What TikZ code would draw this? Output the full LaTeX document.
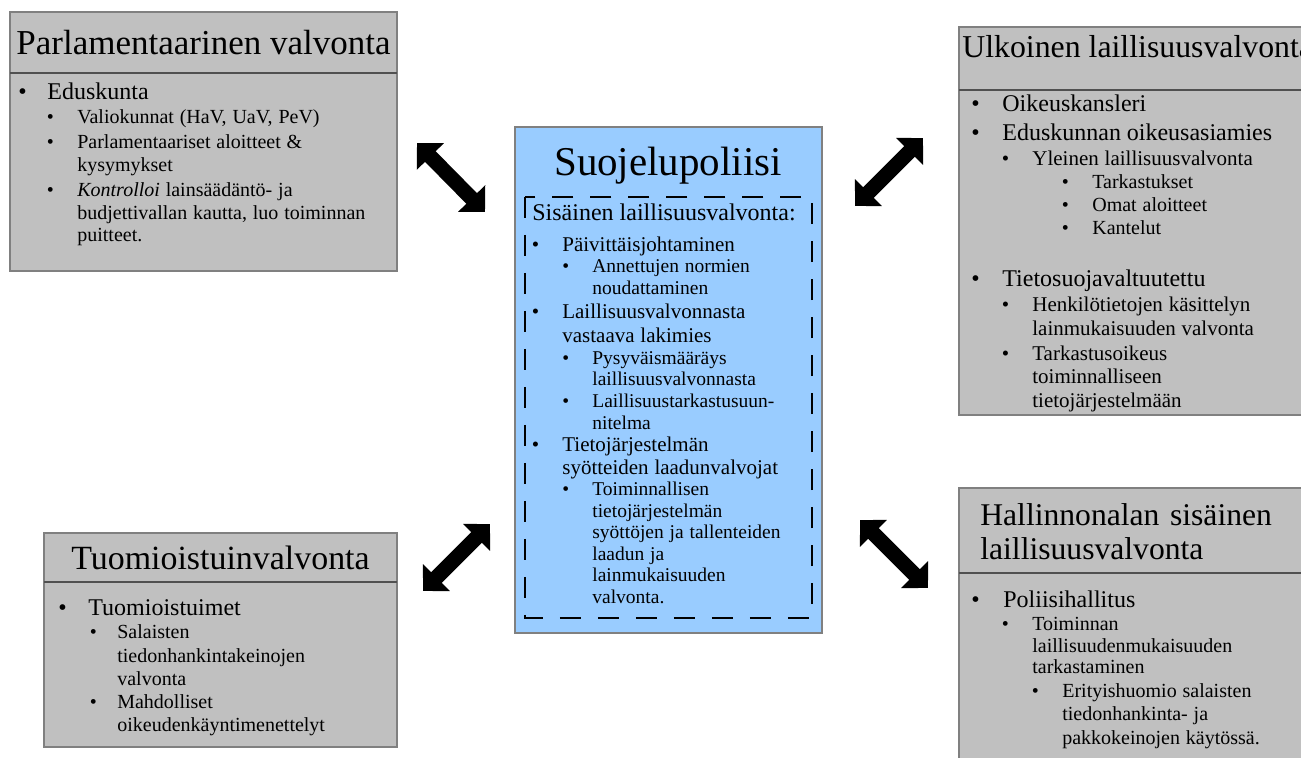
\documentclass[tikz,border=0pt]{standalone}
\usepackage{fontspec}
\setmainfont{Liberation Serif}
\usetikzlibrary{arrows.meta}

\definecolor{boxgray}{RGB}{192,192,192}
\definecolor{supoblue}{RGB}{153,204,255}
\definecolor{edgegray}{RGB}{128,128,128}
\definecolor{sepgray}{RGB}{80,80,80}

\newdimen\pxu \pxu=0.02cm
\newcommand\fsz[2]{\fontsize{#1pt}{#2pt}\selectfont}
% luettelokohta: [lisavali]{luettelomerkin x}{tekstin x}{teksti}
\newcommand\itm[4][0]{\ifdim#1\pxu=0pt\else\vspace{#1\pxu}\fi
  \leftskip=#3\pxu\noindent\llap{\makebox[\dimexpr#3\pxu-#2\pxu\relax][l]{\textbullet}}#4\par}

\begin{document}
\begin{tikzpicture}[x=0.02cm,y=-0.02cm,
    graybox/.style={draw=edgegray,fill=boxgray,line width=0.7pt},
    bluebox/.style={draw=edgegray,fill=supoblue,line width=0.7pt},
    sepline/.style={draw=sepgray,line width=0.9pt},
    dashbox/.style={draw=black,line width=0.6pt,dash pattern=on 0.42cm off 0.34cm},
    dblarrow/.style={line width=0.3cm,{Triangle[length=0.38cm,width=0.74cm]}-{Triangle[length=0.38cm,width=0.74cm]}},
    title/.style={inner sep=0pt},
    body/.style={anchor=base west,inner sep=0pt,text width=8cm,align=left}]
    \useasboundingbox (0,0) rectangle (1301,757);
    \clip (0,0) rectangle (1301,757);

    %Parlamentaarinen valvonta
    \draw[graybox] (10,12) rectangle (397,271);
    \draw[sepline] (10,73) -- (397,73);
    \node[title,anchor=base] (parlTitle) at (203.5,55) {\fsz{19.92}{22}Parlamentaarinen valvonta};
    \node[body] (parlBody) at (10,100) {%
        {\fsz{13.66}{16}\itm{8}{37}{Eduskunta}}
        {\fsz{11.38}{12.8}\itm[1]{36.5}{67}{Valiokunnat (HaV, UaV, PeV)}
        \itm[3]{36.5}{67}{Parlamentaariset aloitteet \&\\kysymykset}
        \itm[3]{36.5}{67}{\textit{Kontrolloi} lainsäädäntö- ja\\budjettivallan kautta, luo toiminnan\\puitteet.}}};

    %Suojelupoliisi
    \draw[bluebox] (515,127) rectangle (822,633);
    \draw[dashbox] (525,197) rectangle (812,618);
    \node[title,anchor=base] (supoTitle) at (668,175) {\fsz{23.3}{25}Suojelupoliisi};
    \node[title,anchor=base west] (supoSub) at (532,220) {\fsz{13.66}{15}Sisäinen laillisuusvalvonta:};
    \node[body] (supoBody) at (515,251) {%
        {\fsz{11.95}{13.37}\itm{16.5}{47}{Päivittäisjohtaminen}}
        {\fsz{11.1}{12.35}\itm[0.3]{47}{77}{Annettujen normien\\noudattaminen}}
        {\fsz{11.95}{13.37}\itm[0.5]{16.5}{47}{Laillisuusvalvonnasta\\vastaava lakimies}}
        {\fsz{11.1}{12.35}\itm[0.3]{47}{77}{Pysyväismääräys\\laillisuusvalvonnasta}
        \itm[0.3]{47}{77}{Laillisuustarkastusuun-\\nitelma}}
        {\fsz{11.95}{13.37}\itm[-2]{16.5}{47}{Tietojärjestelmän\\syötteiden laadunvalvojat}}
        {\fsz{11.1}{12.25}\itm[-0.5]{47}{77}{Toiminnallisen\\tietojärjestelmän\\syöttöjen ja tallenteiden\\laadun ja\\lainmukaisuuden\\valvonta.}}};

    %Ulkoinen laillisuusvalvonta
    \draw[graybox] (959,27) rectangle (1360,415);
    \draw[sepline] (959,90) -- (1360,90);
    \node[title,anchor=base west] (ulkoTitle) at (962,58) {\fsz{18.1}{22}Ulkoinen laillisuusvalvonta};
    \node[body] (ulkoBody) at (959,112) {%
        {\fsz{13.66}{16.5}\itm{12}{43}{Oikeuskansleri}\itm{12}{43}{Eduskunnan oikeusasiamies}}
        {\fsz{11.95}{13.66}\itm[1]{42.5}{73}{Yleinen laillisuusvalvonta}}
        {\fsz{11.38}{13.09}\itm{102.5}{133}{Tarkastukset}\itm{102.5}{133}{Omat aloitteet}\itm{102.5}{133}{Kantelut}}
        {\fsz{13.66}{16.5}\itm[23]{12}{43}{Tietosuojavaltuutettu}}
        {\fsz{11.95}{13.37}\itm[1.5]{42.5}{73}{Henkilötietojen käsittelyn\\lainmukaisuuden valvonta}
        \itm[1.5]{42.5}{73}{Tarkastusoikeus\\toiminnalliseen\\tietojärjestelmään}}};

    %Tuomioistuinvalvonta
    \draw[graybox] (44,533) rectangle (397,747);
    \draw[sepline] (44,582) -- (397,582);
    \node[title,anchor=base] (tuomTitle) at (220.5,569) {\fsz{19.3}{22}Tuomioistuinvalvonta};
    \node[body] (tuomBody) at (44,615) {%
        {\fsz{13.66}{16}\itm{14}{44}{Tuomioistuimet}}
        {\fsz{11.38}{13.26}\itm[0.5]{45.5}{73}{Salaisten\\tiedonhankintakeinojen\\valvonta}
        \itm{45.5}{73}{Mahdolliset\\oikeudenkäyntimenettelyt}}};

    %Hallinnonalan sisainen laillisuusvalvonta
    \draw[graybox] (959,488) rectangle (1360,780);
    \draw[sepline] (959,573) -- (1360,573);
    \node[title,anchor=base west,text width=7cm,align=left,font={\fsz{18}{19.9}}] (hallTitle) at (980,525) {Hallinnonalan sisäinen\\laillisuusvalvonta};
    \node[body] (hallBody) at (959,607) {%
        {\fsz{13.66}{16}\itm{12}{44}{Poliisihallitus}}
        {\fsz{11.38}{12.52}\itm[1]{42.5}{73}{Toiminnan\\laillisuudenmukaisuuden\\tarkastaminen}}
        {\fsz{11.38}{13.37}\itm{72.5}{103}{Erityishuomio salaisten\\tiedonhankinta- ja\\pakkokeinojen käytössä.}}};

    %nuolet
    \coordinate (parlEnd) at (417,143);
    \coordinate (supoNW) at (485,212);
    \coordinate (supoNE) at (855,206);
    \coordinate (ulkoEnd) at (923,138);
    \coordinate (tuomEnd) at (423,591);
    \coordinate (supoSW) at (490,524);
    \coordinate (supoSE) at (860,520);
    \coordinate (hallEnd) at (928,588);
    \draw[dblarrow] (parlEnd) -- (supoNW);
    \draw[dblarrow] (supoNE) -- (ulkoEnd);
    \draw[dblarrow] (tuomEnd) -- (supoSW);
    \draw[dblarrow] (supoSE) -- (hallEnd);
\end{tikzpicture}
\end{document}
